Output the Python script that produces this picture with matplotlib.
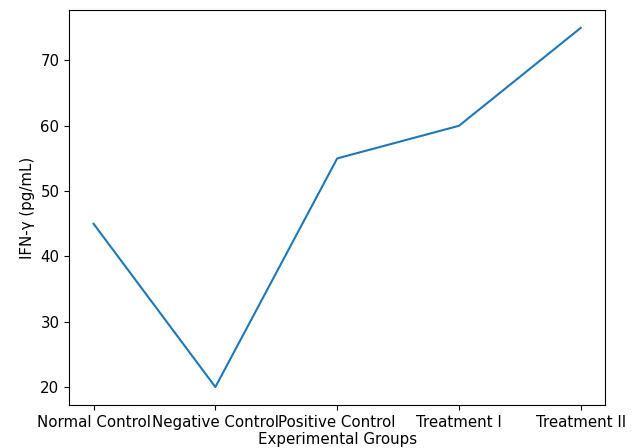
import matplotlib
matplotlib.use("Agg")
import matplotlib.pyplot as plt

# ── DATA ──────────────────────────────────────────────────────────────────────
groups = ["Normal Control", "Negative Control", "Positive Control",
          "Treatment I", "Treatment II"]
ifn_gamma = [45, 20, 55, 60, 75]

plt.rcParams['font.size'] = 10.8

# ── PLOT ──────────────────────────────────────────────────────────────────────
fig, ax = plt.subplots(figsize=(6.35, 4.48), dpi=100)
fig.subplots_adjust(left=0.109, right=0.953, top=0.978, bottom=0.096)

ax.plot(groups, ifn_gamma, color="#1f77b4")
ax.set_xlabel("Experimental Groups", labelpad=2)
ax.set_ylabel("IFN-γ (pg/mL)")

fig.savefig("out.png", dpi=100)
